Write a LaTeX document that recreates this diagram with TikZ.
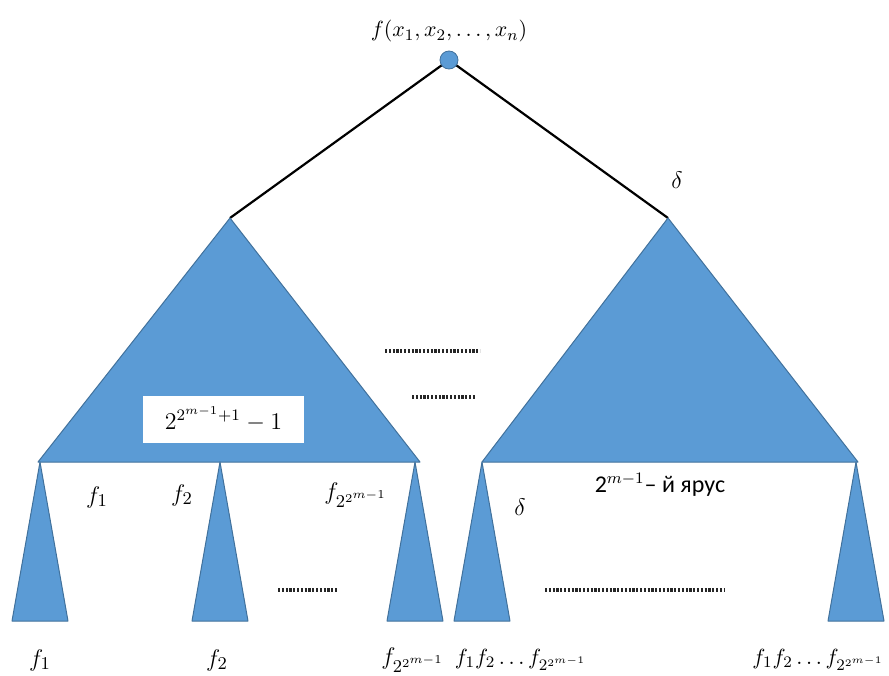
\documentclass[tikz,border=0pt]{standalone}
\usepackage{amsmath}
\usepackage{fontspec}
\newfontfamily\cyrfont{Carlito}
\usepackage{tikz}
\usetikzlibrary{positioning, backgrounds}
\definecolor{tree-blue}{RGB}{91, 155, 213}
\definecolor{tree-edge}{RGB}{65, 113, 156}

\begin{document}
\begin{tikzpicture}[x=0.5pt, y=-0.5pt,
    tri/.style={fill=tree-blue, draw=tree-edge, line width=0.5pt, line join=round},
    edge/.style={line width=1.1pt, color=black},
    lbl/.style={font=\fontsize{11}{13}\selectfont, inner sep=1pt},
    flbl/.style={font=\fontsize{12.5}{15}\selectfont, inner sep=1pt},
    dotrow/.style={line width=1.8pt, dash pattern=on 1.1pt off 0.8pt, color=black!85}
  ]
    \useasboundingbox (0,0) rectangle (889,675);

    % root and the two halves of the tree
    \node[circle, fill=tree-blue, draw=tree-edge, minimum size=9pt, inner sep=0pt] (root) at (449,60) {};
    \node[lbl, above=3pt of root] (rootlbl) {$f(x_1,x_2,\dots,x_n)$};
    \coordinate (lapex) at (230,218);
    \coordinate (rapex) at (668,218);

    \begin{scope}[on background layer]
      \draw[edge] (root.center) -- (lapex);
      \draw[edge] (root.center) -- (rapex);
    \end{scope}

    \draw[tri] (lapex) -- (420,462) -- (38,462) -- cycle;
    \draw[tri] (rapex) -- (858,462) -- (482,462) -- cycle;

    \node[flbl] (delta1) at (677,180) {$\delta$};

    \node[fill=white, draw=tree-blue, line width=0.5pt, minimum width=81pt, minimum height=24pt,
          font=\fontsize{12}{14}\selectfont] (count) at (223.5,419) {$2^{2^{m-1}+1}-1$};

    % leaf triangles of the last level
    \foreach \ax in {40, 220, 415, 482, 856}
      \draw[tri] (\ax,462) -- (\ax+28,621) -- (\ax-28,621) -- cycle;

    % labels inside the last level
    \node[flbl] (lf1) at (97,497) {$f_1$};
    \node[flbl] (lf2) at (182,495) {$f_2$};
    \node[flbl] (lfn) at (356,495) {$f_{2^{2^{m-1}}}$};
    \node[flbl] (delta2) at (520,507) {$\delta$};
    \node[lbl, font=\cyrfont\fontsize{12}{14}\selectfont] (level) at (660,485) {2$^{m-1}$– й ярус};

    % labels under the leaves
    \node[flbl] (bf1) at (40,660) {$f_1$};
    \node[flbl] (bf2) at (217,660) {$f_2$};
    \node[flbl] (bfn) at (413,660) {$f_{2^{2^{m-1}}}$};
    \node[lbl] (bprod1) at (521,660) {$f_1f_2\dots f_{2^{2^{m-1}}}$};
    \node[lbl, anchor=east] (bprod2) at (887,660) {$f_1f_2\dots f_{2^{2^{m-1}}}$};

    % rows of dots
    \draw[dotrow] (385,351) -- (480,351);
    \draw[dotrow] (412,397) -- (475,397);
    \draw[dotrow] (278,590) -- (338,590);
    \draw[dotrow] (545,590) -- (725,590);
  \end{tikzpicture}
\end{document}
